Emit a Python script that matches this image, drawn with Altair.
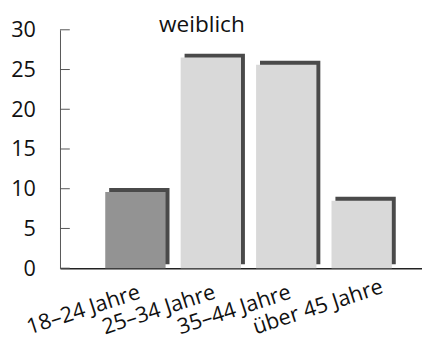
import altair as alt
import pandas as pd

categories = ["18–24 Jahre", "25–34 Jahre", "35–44 Jahre", "über 45 Jahre"]
values = [9.6, 26.5, 25.6, 8.5]
groups = ["dunkel", "hell", "hell", "hell"]
tick_values = [0, 5, 10, 15, 20, 25, 30]

df = pd.DataFrame({"Alter": categories, "Anteil": values, "Gruppe": groups})
ticks = pd.DataFrame({"t": tick_values})

xsc = alt.Scale(domain=categories, paddingInner=0.2, paddingOuter=0.5, align=0.6)
ysc = alt.Scale(domain=[0, 30], nice=False, zero=True)

x_axis = alt.Axis(
    title=None,
    ticks=False,
    domain=True,
    domainColor="#222222",
    domainWidth=1.5,
    labelAngle=-18,
    labelAlign="left",
    labelBaseline="alphabetic",
    labelFont="Open Sans",
    labelFontSize=22,
    labelColor="#111111",
    labelPadding=67,
    labelOffset=-108,
    labelOverlap=False,
    labelBound=False,
)
y_axis = alt.Axis(
    title=None,
    values=tick_values,
    ticks=False,
    grid=False,
    domainColor="#555555",
    labelFont="Open Sans",
    labelFontSize=22,
    labelColor="#111111",
    labelPadding=25,
)

base = alt.Chart(df)

shadow = base.mark_bar(color="#4a4a4a", xOffset=4, yOffset=-4).encode(
    x=alt.X("Alter:N", scale=xsc, sort=categories, axis=x_axis),
    y=alt.Y("Anteil:Q", scale=ysc, axis=y_axis),
)

front = base.mark_bar().encode(
    x=alt.X("Alter:N", scale=xsc, sort=categories, axis=x_axis),
    y=alt.Y("Anteil:Q", scale=ysc, axis=y_axis),
    color=alt.Color(
        "Gruppe:N",
        scale=alt.Scale(domain=["dunkel", "hell"], range=["#939393", "#d9d9d9"]),
        legend=None,
    ),
)

tick_rules = alt.Chart(ticks).mark_rule(color="#555555").encode(
    y=alt.Y("t:Q", scale=ysc, axis=y_axis),
    x=alt.value(0),
    x2=alt.value(10),
)

chart = alt.layer(shadow, front, tick_rules).properties(
    width=369,
    height=243,
    autosize="none",
    padding={"left": 53, "top": 19, "right": 0, "bottom": 71},
    title=alt.TitleParams(
        "weiblich",
        font="Open Sans",
        fontSize=23,
        fontWeight="normal",
        color="#111111",
        anchor="start",
        frame="group",
        dx=101,
        dy=10,
        offset=-8,
    ),
).configure_view(stroke=None)

chart.save("out.html", embed_options={"renderer": "svg", "actions": False})
